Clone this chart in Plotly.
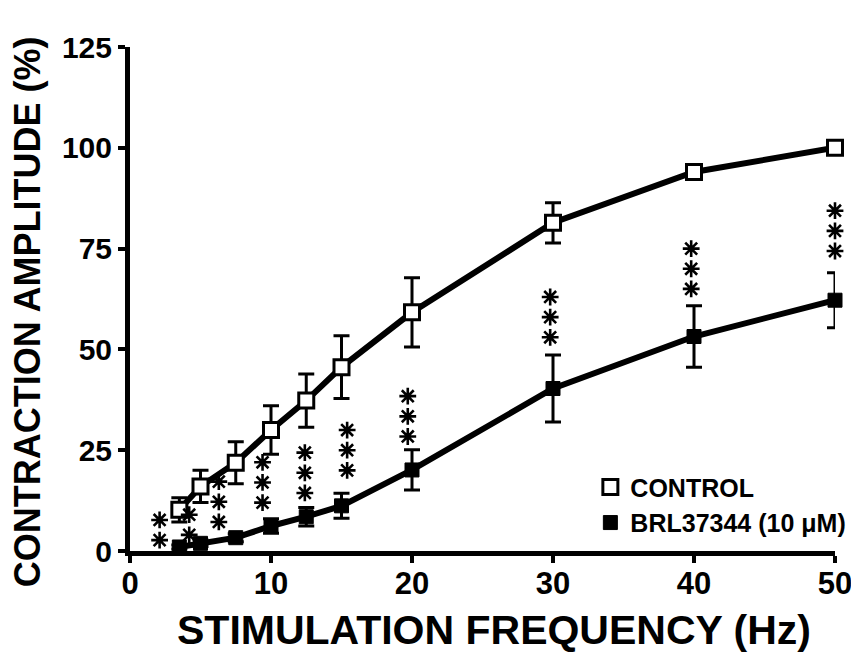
import plotly.graph_objects as go

# Stimulation frequencies (Hz)
freq = [3.5, 5, 7.5, 10, 12.5, 15, 20, 30, 40, 50]

# Contraction amplitude (% of control max), mean and SEM
control_mean = [10.2, 16.0, 21.9, 30.0, 37.3, 45.6, 59.2, 81.4, 94.0, 100.0]
control_sem = [3.0, 4.0, 5.2, 6.0, 6.6, 7.8, 8.6, 5.0, 1.0, 0.0]

brl_mean = [1.0, 1.9, 3.3, 6.2, 8.5, 11.2, 20.1, 40.3, 53.2, 62.2]
brl_sem = [0.5, 0.8, 1.0, 1.8, 2.3, 3.1, 5.0, 8.3, 7.6, 6.8]

# Significance marks: x position, number of asterisks, y of the lowest asterisk
sig_x = [2.1, 4.2, 6.3, 9.4, 12.4, 15.4, 19.7, 29.8, 39.8, 50.0]
sig_n = [2, 2, 3, 3, 3, 3, 3, 3, 3, 3]
sig_base = [2.7, 4.0, 7.2, 12.0, 14.4, 20.0, 28.4, 53.0, 65.0, 74.4]
sig_step = 5.0

x_ticks = [0, 10, 20, 30, 40, 50]
y_ticks = [0, 25, 50, 75, 100, 125]

FONT = "Liberation Sans, Arial, sans-serif"
INK = "black"

fig = go.Figure()

# connecting curves
for ys in (control_mean, brl_mean):
    fig.add_trace(go.Scatter(
        x=freq, y=ys, mode="lines",
        line=dict(color=INK, width=6),
        showlegend=False, hoverinfo="skip", cliponaxis=False,
    ))

# control points
fig.add_trace(go.Scatter(
    x=freq, y=control_mean, mode="markers", name="CONTROL",
    marker=dict(symbol="square", size=15, color="white",
                line=dict(color=INK, width=3)),
    error_y=dict(type="data", array=control_sem, visible=True,
                 color=INK, thickness=3, width=8),
    cliponaxis=False,
))

# BRL37344 points
fig.add_trace(go.Scatter(
    x=freq, y=brl_mean, mode="markers", name="BRL37344 (10 \u03bcM)",
    marker=dict(symbol="square", size=14, color=INK,
                line=dict(color=INK, width=1)),
    error_y=dict(type="data", array=brl_sem, visible=True,
                 color=INK, thickness=3, width=8),
    cliponaxis=False,
))

# asterisks
star_x, star_y = [], []
for xs, n, base in zip(sig_x, sig_n, sig_base):
    for i in range(n):
        star_x.append(xs)
        star_y.append(base + i * sig_step)
fig.add_trace(go.Scatter(
    x=star_x, y=star_y, mode="markers",
    marker=dict(symbol="asterisk-open", size=14, color=INK,
                line=dict(color=INK, width=2.6)),
    showlegend=False, hoverinfo="skip", cliponaxis=False,
))

fig.update_layout(
    width=851, height=657,
    margin=dict(l=130, r=16, t=47, b=106, autoexpand=False),
    paper_bgcolor="white", plot_bgcolor="white",
    showlegend=True,
    legend=dict(
        x=0.653, y=0.172, xanchor="left", yanchor="top",
        bgcolor="rgba(0,0,0,0)",
        font=dict(family=FONT, size=25, color=INK, weight="bold"),
        tracegroupgap=0, itemwidth=30,
    ),
    annotations=[
        dict(text="<b>STIMULATION FREQUENCY (Hz)</b>", xref="paper", yref="paper",
             x=0.516, y=-0.157, xanchor="center", yanchor="middle",
             showarrow=False, font=dict(family=FONT, size=41, color=INK)),
        dict(text="<b>CONTRACTION AMPLITUDE (%)</b>", xref="paper", yref="paper",
             x=-0.146, y=0.474, xanchor="center", yanchor="middle", textangle=-90,
             showarrow=False, font=dict(family=FONT, size=36, color=INK)),
    ],
)

fig.update_xaxes(
    range=[0, 50], tickvals=x_ticks, showgrid=False, zeroline=False,
    showline=True, linewidth=5, linecolor=INK,
    ticks="outside", ticklen=7, tickwidth=4, tickcolor=INK,
    tickfont=dict(family=FONT, size=31, color=INK, weight="bold"),
    ticklabeloverflow="allow", ticklabelstandoff=-6,
)
fig.update_yaxes(
    range=[0, 125], tickvals=y_ticks, showgrid=False, zeroline=False,
    showline=True, linewidth=5, linecolor=INK,
    ticks="outside", ticklen=7, tickwidth=4, tickcolor=INK,
    tickfont=dict(family=FONT, size=30, color=INK, weight="bold"),
)

fig.write_html("out.html")
